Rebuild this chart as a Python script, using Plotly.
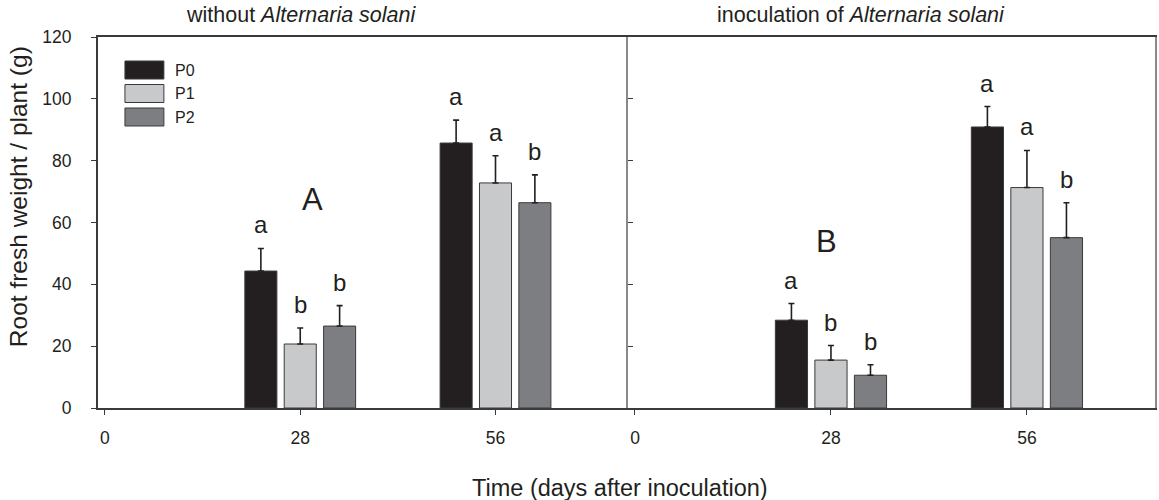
import plotly.graph_objects as go
from plotly.subplots import make_subplots

# ---------------- data ----------------
days = [28, 56]
series = ["P0", "P1", "P2"]
colors = ["#231f20", "#c8c9cb", "#7d7e82"]

# Panel A: without Alternaria solani
a_p0_mean = [44.3, 85.7]
a_p1_mean = [20.7, 72.8]
a_p2_mean = [26.5, 66.4]
a_p0_err = [7.3, 7.4]
a_p1_err = [5.2, 8.8]
a_p2_err = [6.6, 9.0]
a_p0_letters = ["a", "a"]
a_p1_letters = ["b", "a"]
a_p2_letters = ["b", "b"]

# Panel B: inoculation of Alternaria solani
b_p0_mean = [28.4, 90.9]
b_p1_mean = [15.5, 71.3]
b_p2_mean = [10.6, 55.1]
b_p0_err = [5.4, 6.6]
b_p1_err = [4.7, 12.0]
b_p2_err = [3.4, 11.3]
b_p0_letters = ["a", "a"]
b_p1_letters = ["b", "a"]
b_p2_letters = ["b", "b"]

x_ticks = [0, 28, 56]
y_ticks = [0, 20, 40, 60, 80, 100, 120]

panel_titles = ["without <i>Alternaria solani</i>", "inoculation of <i>Alternaria solani</i>"]
panel_tags = ["A", "B"]
y_title = "Root fresh weight / plant (g)"
x_title = "Time (days after inoculation)"

# ---------------- figure ----------------
FONT = "Liberation Sans, Arial, sans-serif"
INK = "#231f20"
W, H = 1159, 500
ML, MR, MT, MB = 98, 2, 37, 92
PW = W - ML - MR
PH = H - MT - MB
split = (629 - ML) / PW

BARGAP = 0.395
BARGROUPGAP = 0.186
slot = 28 * (1 - BARGAP) / 3

fig = make_subplots(rows=1, cols=2, horizontal_spacing=0)

panels = [
    ([a_p0_mean, a_p1_mean, a_p2_mean], [a_p0_err, a_p1_err, a_p2_err],
     [a_p0_letters, a_p1_letters, a_p2_letters]),
    ([b_p0_mean, b_p1_mean, b_p2_mean], [b_p0_err, b_p1_err, b_p2_err],
     [b_p0_letters, b_p1_letters, b_p2_letters]),
]

annotations = []
for pi, (means, errs, letters) in enumerate(panels):
    col = pi + 1
    xref = "x" if col == 1 else "x2"
    yref = "y" if col == 1 else "y2"
    for si, name in enumerate(series):
        fig.add_trace(
            go.Bar(
                x=days, y=means[si], name=name, showlegend=False,
                marker=dict(color=colors[si], line=dict(color="#3a3a3c", width=1)),
                error_y=dict(type="data", symmetric=False, array=errs[si],
                             arrayminus=[0] * len(days), color=INK,
                             thickness=1.6, width=3),
            ),
            row=1, col=col,
        )
        for di, d in enumerate(days):
            annotations.append(dict(
                x=d + (si - 1) * slot, y=means[si][di] + errs[si][di],
                xref=xref, yref=yref, text=letters[si][di], showarrow=False,
                xanchor="center", yanchor="bottom", yshift=8,
                font=dict(family=FONT, size=24, color=INK),
            ))

# panel tags A / B
annotations.append(dict(x=29.8, y=67.6, xref="x", yref="y", text=panel_tags[0],
                        showarrow=False, xanchor="center", yanchor="middle",
                        font=dict(family=FONT, size=31, color=INK)))
annotations.append(dict(x=27.4, y=53.8, xref="x2", yref="y2", text=panel_tags[1],
                        showarrow=False, xanchor="center", yanchor="middle",
                        font=dict(family=FONT, size=31, color=INK)))

# panel titles
annotations.append(dict(x=(301 - ML) / PW, y=1, xref="paper", yref="paper",
                        xanchor="center", yanchor="middle", yshift=22,
                        text=panel_titles[0], showarrow=False,
                        font=dict(family=FONT, size=21.5, color=INK)))
annotations.append(dict(x=(862 - ML) / PW, y=1, xref="paper", yref="paper",
                        xanchor="center", yanchor="middle", yshift=22,
                        text=panel_titles[1], showarrow=False,
                        font=dict(family=FONT, size=21.5, color=INK)))

# axis titles
annotations.append(dict(x=(18 - ML) / PW, y=(408 - 197) / PH, xref="paper", yref="paper",
                        xanchor="center", yanchor="middle",
                        text=y_title, textangle=-90, showarrow=False,
                        font=dict(family=FONT, size=24.5, color=INK)))
annotations.append(dict(x=(621 - ML) / PW, y=0, xref="paper", yref="paper",
                        xanchor="center", yanchor="middle", yshift=-80,
                        text=x_title, showarrow=False,
                        font=dict(family=FONT, size=23.5, color=INK)))

# manual legend (large swatches, as in the original)
shapes = []
for si, name in enumerate(series):
    cy = 70 + si * 23.5
    shapes.append(dict(type="rect", xref="paper", yref="paper",
                       x0=(125 - ML) / PW, x1=(164 - ML) / PW,
                       y0=(MT + PH - (cy + 9)) / PH, y1=(MT + PH - (cy - 9)) / PH,
                       fillcolor=colors[si], line=dict(color="#3a3a3c", width=1)))
    annotations.append(dict(x=(173 - ML) / PW, y=(MT + PH - cy) / PH,
                            xref="paper", yref="paper", xanchor="left", yanchor="middle",
                            text=name, showarrow=False,
                            font=dict(family=FONT, size=16, color=INK)))

axis_line = "#3a3a3c"
fig.update_layout(
    width=W, height=H,
    margin=dict(l=ML, r=MR, t=MT, b=MB),
    plot_bgcolor="white", paper_bgcolor="white",
    barmode="group", bargap=BARGAP, bargroupgap=BARGROUPGAP,
    annotations=annotations, shapes=shapes,
    showlegend=False,
    font=dict(family=FONT, color=INK),
)

fig.update_xaxes(domain=[0, split], row=1, col=1)
fig.update_xaxes(domain=[split, 1], row=1, col=2)
fig.update_xaxes(range=[-1, 75], row=1, col=1)
fig.update_xaxes(range=[-1, 74.3], row=1, col=2)
fig.update_xaxes(
    tickvals=x_ticks, ticktext=[str(t) for t in x_ticks],
    ticks="outside", ticklen=5, tickwidth=1, tickcolor=axis_line,
    showline=True, linecolor=axis_line, linewidth=2, mirror=True,
    showgrid=False, zeroline=False, ticklabelstandoff=8,
    tickfont=dict(family=FONT, size=17.5, color=INK),
)
fig.update_yaxes(range=[0, 120], tickvals=y_ticks, showgrid=False, zeroline=False,
                 showline=True, linecolor=axis_line, linewidth=2,
                 tickwidth=1, tickcolor=axis_line, ticklen=5)
fig.update_yaxes(ticks="outside", ticklabelstandoff=16,
                 tickfont=dict(family=FONT, size=17.5, color=INK), row=1, col=1)
fig.update_yaxes(ticks="inside", showticklabels=False, mirror=True,
                 linecolor="#8a8a8c", row=1, col=2)

fig.write_html("out.html")
